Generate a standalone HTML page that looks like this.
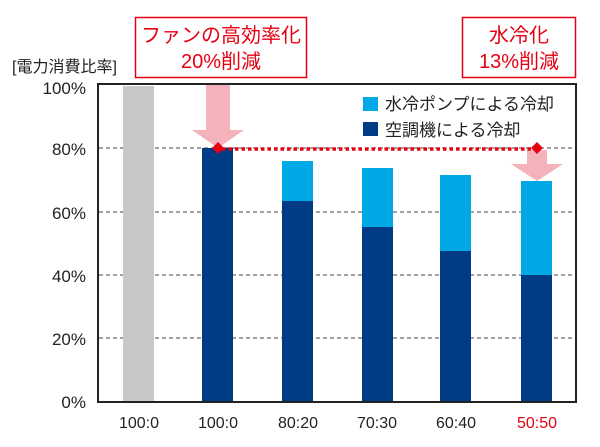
<!DOCTYPE html><html><head><meta charset="utf-8"><style>body{margin:0;background:#fff}</style></head><body>
<svg width="600" height="442" xmlns="http://www.w3.org/2000/svg" font-family="Liberation Sans, Noto Sans CJK JP, sans-serif">
<rect width="600" height="442" fill="#fff"/>
<g stroke="#444" stroke-dasharray="4,3" stroke-width="1">
<line x1="99" y1="148" x2="575" y2="148"/><line x1="99" y1="212" x2="575" y2="212"/><line x1="99" y1="275" x2="575" y2="275"/><line x1="99" y1="338" x2="575" y2="338"/></g>
<rect x="123" y="86" width="31" height="315" fill="#c8c8c8"/>
<rect x="202" y="148" width="31" height="253" fill="#003c85"/>
<rect x="282" y="161" width="31" height="40" fill="#00a8e6"/><rect x="282" y="201" width="31" height="200" fill="#003c85"/>
<rect x="362" y="168" width="31" height="59" fill="#00a8e6"/><rect x="362" y="227" width="31" height="174" fill="#003c85"/>
<rect x="440" y="175" width="31" height="76" fill="#00a8e6"/><rect x="440" y="251" width="31" height="150" fill="#003c85"/>
<rect x="521" y="181" width="31" height="94" fill="#00a8e6"/><rect x="521" y="275" width="31" height="126" fill="#003c85"/>
<rect x="98" y="84" width="478" height="318" fill="none" stroke="#222" stroke-width="2"/>
<polygon points="206,85 230,85 230,130 244,130 218,148 192,130 206,130" fill="#f4b3bb"/>
<polygon points="527,150 547,150 547,164 563,164 537,181 511,164 527,164" fill="#f4b3bb"/>
<line x1="222" y1="149" x2="533" y2="149" stroke="#e60012" stroke-width="3.5" stroke-dasharray="3.5,3"/>
<polygon points="218,142 224,148 218,154 212,148" fill="#e60012"/>
<polygon points="537,142 543,148 537,154 531,148" fill="#e60012"/>
<rect x="135.5" y="17.5" width="171" height="60" fill="#fff" stroke="#e60012" stroke-width="1.5"/>
<rect x="462.5" y="17.5" width="113" height="60" fill="#fff" stroke="#e60012" stroke-width="1.5"/>
<g fill="#e60012" font-size="20" text-anchor="middle"><text x="221" y="42">ファンの高効率化</text><text x="221" y="68">20%削減</text><text x="519" y="42">水冷化</text><text x="519" y="68">13%削減</text></g>
<text x="12" y="72" font-size="16" fill="#222">[電力消費比率]</text>
<g font-size="17" fill="#222" text-anchor="end"><text x="86" y="94">100%</text><text x="86" y="155">80%</text><text x="86" y="219">60%</text><text x="86" y="282">40%</text><text x="86" y="345">20%</text><text x="86" y="408">0%</text></g>
<g font-size="16" fill="#222" text-anchor="middle"><text x="139" y="428">100:0</text><text x="218" y="428">100:0</text><text x="298" y="428">80:20</text><text x="377" y="428">70:30</text><text x="456" y="428">60:40</text><text x="537" y="428" fill="#e60012">50:50</text></g>
<rect x="363" y="97" width="15" height="14" fill="#00a8e6"/><rect x="363" y="122" width="15" height="14" fill="#003c85"/>
<g font-size="17" fill="#222"><text x="385" y="110">水冷ポンプによる冷却</text><text x="385" y="136">空調機による冷却</text></g>
</svg></body></html>
